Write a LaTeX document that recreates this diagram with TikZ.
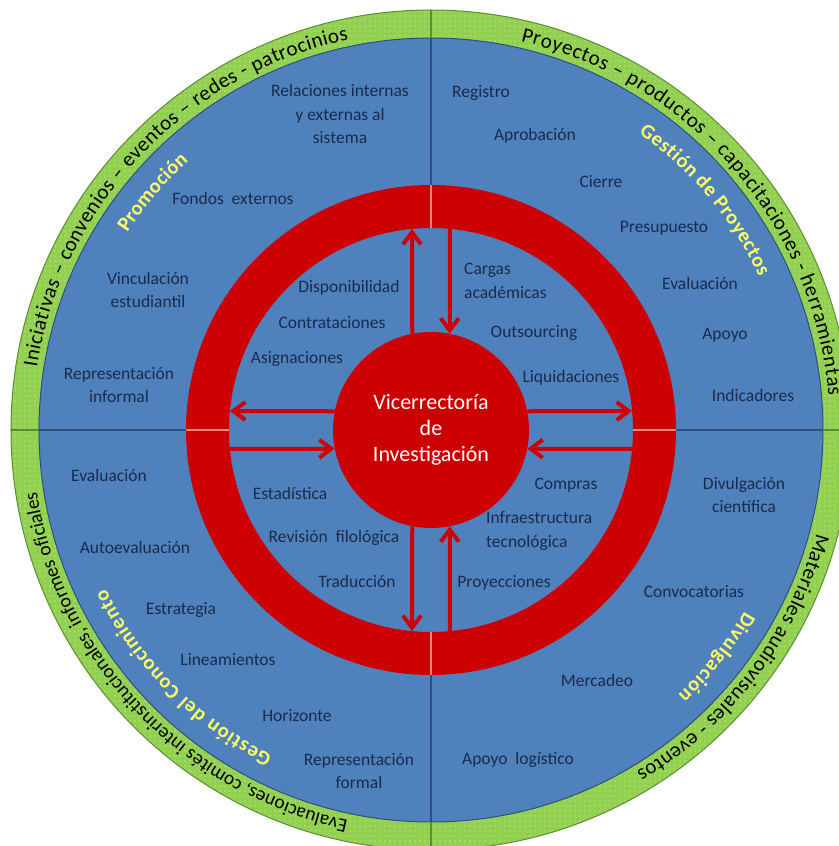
\documentclass[tikz,border=0pt]{standalone}
\usepackage{fontspec}
\setmainfont{Carlito}
\usetikzlibrary{arrows.meta, decorations.text, patterns.meta}

\definecolor{ringgreen}{HTML}{92D050}
\definecolor{dotgreen}{HTML}{B4E288}
\definecolor{greenline}{HTML}{5E8C34}
\definecolor{discblue}{HTML}{4F81BD}
\definecolor{blueline}{HTML}{2F4F7F}
\definecolor{ringred}{HTML}{CC0000}
\definecolor{redline}{HTML}{F0857A}
\definecolor{itemnavy}{HTML}{1A2B4C}
\definecolor{headyellow}{HTML}{FFFF66}

\newcommand\ringfont{\fontsize{21}{24}\selectfont}
\newcommand\headfont{\fontsize{20.5}{24}\selectfont\bfseries}

\begin{document}
\begin{tikzpicture}[x=1pt,y=1pt,
  item/.style={text=itemnavy, font=\fontsize{17.5}{23.5}\selectfont, align=center, inner sep=0pt},
  flow/.style={draw=ringred, line width=4pt, -{Straight Barb[length=12pt,width=18pt]}},
  circtext/.style={decorate, decoration={text along path, text align=fit to path, text={#1}}},
  headtext/.style={decorate, decoration={text along path, text align=fit to path, text color=headyellow, text={#1}}},
  ]
\useasboundingbox (-431,-416) rectangle (407,430);
\coordinate (origin) at (0,0);
% Draw green ring
\fill[ringgreen] (origin) circle [radius=420pt];
\fill[pattern={Dots[distance=5pt,radius=0.9pt]}, pattern color=dotgreen] (origin) circle [radius=420pt];
\draw[greenline, line width=1pt] (origin) circle [radius=420pt];
% Draw blue disc
\draw[fill=discblue, draw=blueline, line width=1pt] (origin) circle [radius=392pt];
% Draw quadrant lines
\draw[greenline, line width=1.2pt] (0,392) -- (0,420);
\draw[greenline, line width=1.2pt] (0,-392) -- (0,-420);
\draw[greenline, line width=1.2pt] (-392,0) -- (-420,0);
\draw[greenline, line width=1.2pt] (392,0) -- (420,0);
\draw[blueline, line width=1.2pt] (0,245) -- (0,392);
\draw[blueline, line width=1.2pt] (0,-245) -- (0,-392);
\draw[blueline, line width=1.2pt] (-245,0) -- (-392,0);
\draw[blueline, line width=1.2pt] (245,0) -- (392,0);
% Draw red ring
\fill[ringred, even odd rule] (origin) circle [radius=245pt] circle [radius=202pt];
\draw[redline, line width=1.2pt] (0,202) -- (0,245);
\draw[redline, line width=1.2pt] (0,-202) -- (0,-245);
\draw[redline, line width=1.2pt] (-202,0) -- (-245,0);
\draw[redline, line width=1.2pt] (202,0) -- (245,0);
% Centre
\node[circle, fill=ringred, minimum size=196pt, inner sep=0pt, text=white,
  font=\fontsize{22}{26}\selectfont, align=center] (vr) at (origin) {Vicerrectoría\\de\\Investigación};
% Arrow ends on the ring
\coordinate (n1) at (-19,201);
\coordinate (n2) at (19,201);
\coordinate (w1) at (-201,19);
\coordinate (w2) at (-201,-19);
\coordinate (e1) at (201,19);
\coordinate (e2) at (201,-19);
\coordinate (s1) at (-19,-201);
\coordinate (s2) at (19,-201);
% Draw arrows
\draw[flow] (vr.101) -- (n1);
\draw[flow] (n2) -- (vr.79);
\draw[flow] (vr.169) -- (w1);
\draw[flow] (w2) -- (vr.191);
\draw[flow] (vr.11) -- (e1);
\draw[flow] (e2) -- (vr.349);
\draw[flow] (vr.259) -- (s1);
\draw[flow] (s2) -- (vr.281);
% Promocion
\node[item] (rel) at (-91,316) {Relaciones internas\\y externas al\\sistema};
\node[item] (fondos) at (-198,232) {Fondos\ \ externos};
\node[item] (vinc) at (-283,140) {Vinculación\\estudiantil};
\node[item] (repinf) at (-312,45) {Representación\\informal};
\node[item] (disp) at (-82,142) {Disponibilidad};
\node[item] (contr) at (-99,107) {Contrataciones};
\node[item] (asig) at (-134,71) {Asignaciones};
% Gestion de proyectos
\node[item] (reg) at (50,337) {Registro};
\node[item] (aprob) at (104,294) {Aprobación};
\node[item] (cierre) at (170,248) {Cierre};
\node[item] (presup) at (233,202) {Presupuesto};
\node[item] (evalgp) at (269,147) {Evaluación};
\node[item] (apoyo) at (294,95) {Apoyo};
\node[item] (indic) at (322,35) {Indicadores};
\node[item, align=left, anchor=west] (cargas) at (33,149) {Cargas\\académicas};
\node[item] (outs) at (103,97) {Outsourcing};
\node[item] (liq) at (140,52) {Liquidaciones};
% Gestion del conocimiento
\node[item] (evalgc) at (-322,-45) {Evaluación};
\node[item] (autoev) at (-296,-117) {Autoevaluación};
\node[item] (estrat) at (-250,-180) {Estrategia};
\node[item] (linea) at (-203,-230) {Lineamientos};
\node[item] (horiz) at (-134,-286) {Horizonte};
\node[item] (repfor) at (-72,-341) {Representación\\formal};
\node[item] (estad) at (-141,-63) {Estadística};
\node[item] (revis) at (-97,-108) {Revisión\ \ filológica};
\node[item] (trad) at (-74,-151) {Traducción};
% Divulgacion
\node[item] (divc) at (313,-65) {Divulgación\\científica};
\node[item] (convoc) at (263,-162) {Convocatorias};
\node[item] (merc) at (166,-250) {Mercadeo};
\node[item] (apolog) at (87,-330) {Apoyo\ \ logístico};
\node[item] (compras) at (135,-55) {Compras};
\node[item, align=left, anchor=west] (infra) at (55,-101) {Infraestructura\\tecnológica};
\node[item] (proyec) at (73,-153) {Proyecciones};
% Titles along the disc
\path[headtext={|\headfont|Promoción}] (147:362pt) arc [start angle=147, end angle=132, radius=362pt];
\path[headtext={|\headfont|Gestión de Proyectos}] (55:362pt) arc [start angle=55, end angle=25, radius=362pt];
\path[headtext={|\headfont|Divulgación}] (-30:362pt) arc [start angle=-30, end angle=-47, radius=362pt];
\path[headtext={|\headfont|Gestión del Conocimiento}] (-116:362pt) arc [start angle=-116, end angle=-154, radius=362pt];
% Texts along the green ring
\path[circtext={|\ringfont|Iniciativas – convenios – eventos – redes - patrocinios}] (171:399pt) arc [start angle=171, end angle=102, radius=399pt];
\path[circtext={|\ringfont|Proyectos – productos – capacitaciones - herramientas}] (77:399pt) arc [start angle=77, end angle=5, radius=399pt];
\path[circtext={|\ringfont|Materiales audiovisuales - eventos}] (-15:399pt) arc [start angle=-15, end angle=-59, radius=399pt];
\path[circtext={|\fontsize{19.5}{23}\selectfont|Evaluaciones, comités interinstitucionales, informes oficiales}] (-102:399pt) arc [start angle=-102, end angle=-171, radius=399pt];
\end{tikzpicture}
\end{document}
